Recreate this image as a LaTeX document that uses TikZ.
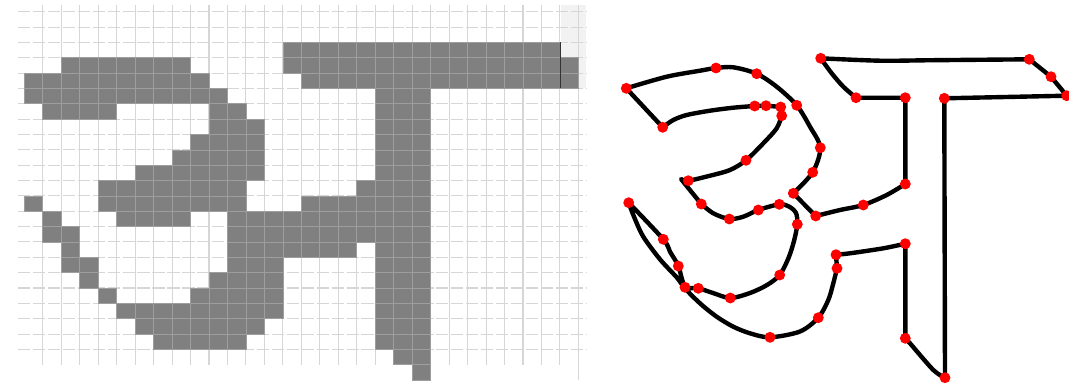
\documentclass[tikz,border=0pt]{standalone}
\usepackage{xcolor}
\usepackage{tikz}
\definecolor{CellGray}{RGB}{128,128,128}
\definecolor{GridGray}{RGB}{214,214,214}
\definecolor{PaleGray}{RGB}{242,242,242}
\definecolor{DotRed}{RGB}{255,0,0}
\def\cw{18.47}
\def\ch{15.35}
\tikzset{
  cell/.style={fill=CellGray, draw=black!38, line width=0.4pt},
  gridv/.style={draw=GridGray, line width=0.6pt},
  gridh/.style={draw=GridGray, line width=0.6pt, dash pattern=on 7pt off 1.5pt},
  letterline/.style={draw=black, line width=2.5pt, line join=round, line cap=round},
  reddot/.style={fill=DotRed, draw=none},
}

\begin{document}
\begin{tikzpicture}[x=0.02cm, y=-0.02cm]
  \fill[white] (0,0) rectangle (1069,383);
  \useasboundingbox (0,0) rectangle (1069,383);

  % pixel grid
  \fill[PaleGray] (560.7,5) rectangle (585.7,88.4);
  \foreach \k in {1,...,29}
    \draw[gridv] ({24.3+\k*\cw},5) -- ({24.3+\k*\cw},365);
  \draw[gridv] ({24.3+30*\cw},5) -- ({24.3+30*\cw},380);
  \foreach \j in {0,...,22}
    \draw[gridh] (18,{11.7+\j*\ch}) -- (586,{11.7+\j*\ch});
  \foreach \r/\a/\b in {2/14/28, 3/2/8, 3/14/29, 4/0/9, 4/15/29, 5/0/10, 5/19/21,
      6/1/4, 6/10/11, 6/19/21, 7/10/12, 7/19/21, 8/9/12, 8/19/21, 9/8/12, 9/19/21,
      10/6/12, 10/19/21, 11/4/11, 11/18/21, 12/0/0, 12/4/11, 12/15/21,
      13/1/1, 13/5/8, 13/11/21, 14/1/2, 14/11/21, 15/2/2, 15/11/17, 15/19/21,
      16/2/3, 16/11/13, 16/19/21, 17/3/3, 17/10/13, 17/19/21, 18/4/4, 18/9/13, 18/19/21,
      19/5/13, 19/19/21, 20/6/12, 20/19/21, 21/7/11, 21/19/21, 22/20/21, 23/21/21}
    \foreach \c in {\a,...,\b}
      \draw[cell] ({24.3+\c*\cw},{11.7+\r*\ch}) rectangle ({24.3+(\c+1)*\cw},{11.7+(\r+1)*\ch});
  \draw[black!80, line width=0.6pt] (560.7,42.4) -- (560.7,88.4);

  % outline points
  \coordinate (p1) at (626.3,88.3);
  \coordinate (p2) at (716,68);
  \coordinate (p3) at (756.7,73.7);
  \coordinate (p4) at (796.7,105.3);
  \coordinate (p5) at (820.3,147.7);
  \coordinate (p6) at (812.7,172.3);
  \coordinate (p7) at (793.3,193.3);
  \coordinate (p8) at (815.7,216);
  \coordinate (p9) at (863.3,205);
  \coordinate (p10) at (905.3,184);
  \coordinate (p11) at (905.3,97.7);
  \coordinate (p12) at (856,97.7);
  \coordinate (p13) at (820.7,58.3);
  \coordinate (p14) at (1029.3,59.3);
  \coordinate (p15) at (1051,76.7);
  \coordinate (p16) at (1066.7,95.7);
  \coordinate (p17) at (944.3,98.3);
  \coordinate (p18) at (945,377.7);
  \coordinate (p19) at (905.3,338.3);
  \coordinate (p20) at (905.3,243.7);
  \coordinate (p21) at (836,254.7);
  \coordinate (p22) at (837,268.3);
  \coordinate (p23) at (818.3,317.7);
  \coordinate (p24) at (770,337.3);
  \coordinate (p25) at (685,287.3);
  \coordinate (p26) at (678.3,266);
  \coordinate (p27) at (663.3,239.3);
  \coordinate (p28) at (628.7,202.7);
  \coordinate (p29) at (698.3,288.3);
  \coordinate (p30) at (730.3,298);
  \coordinate (p31) at (779.7,275);
  \coordinate (p32) at (797.3,224.3);
  \coordinate (p33) at (779.3,204.3);
  \coordinate (p34) at (758.3,210);
  \coordinate (p35) at (729.3,219);
  \coordinate (p36) at (701.3,204);
  \coordinate (p37) at (688.3,180.7);
  \coordinate (p38) at (746,160.3);
  \coordinate (p39) at (781.7,115.7);
  \coordinate (p40) at (780.7,107);
  \coordinate (p41) at (766,105.7);
  \coordinate (p42) at (754.7,106);
  \coordinate (p43) at (662.7,127.3);

  % traced letter
  \draw[letterline]
    plot[smooth] coordinates {(p1) (666.7,76.7) (700,70.7) (p2) (733.3,67.3) (p3) (776.7,86.7) (p4) (810,126.7) (p5) (p6) (p7)}
    -- plot[smooth] coordinates {(p8) (840,210) (p9) (886.7,195) (p10)}
    -- (p11)
    -- plot[smooth] coordinates {(p12) (843.3,86.7) (831.7,73.3) (p13)}
    -- plot[smooth] coordinates {(p13) (880,60.7) (933,60.2) (p14)}
    -- (p15) -- (p16) -- (p17) -- (p18)
    -- plot[smooth] coordinates {(p18) (933.3,370) (910,343.3) (p19)}
    -- (p20)
    -- plot[smooth] coordinates {(p20) (883.3,248.3) (850,253.3) (p21)}
    -- plot[smooth] coordinates {(p22) (833.3,283.3) (828.3,300) (p23) (800,331.5) (p24) (750,333.3) (733.3,326.7) (716.7,316.7) (700,303.3) (p25) (p26) (670,251.7) (p27) (p28)}
    -- plot[smooth] coordinates {(p28) (634,216.7) (643.3,236.7) (660,259.3) (676.7,277.3) (p25) (p29) (713,293) (p30) (750,293) (767,285) (p31) (788.5,258) (794,241) (p32) (796,213) (789,206.5) (p33) (p34) (743.3,216.7) (p35) (713.3,213.3) (p36)}
    -- plot[smooth] coordinates {(681,179) (p37) (710,175.7) (730,170) (p38) (763.3,143.3) (776.7,128.3) (p39)}
    -- plot[smooth] coordinates {(p40) (p41) (p42) (733.3,107.7) (710,110.7) (686.7,115) (673.3,120) (p43)}
    -- cycle;

  \foreach \i in {1,...,43}
    \fill[reddot] (p\i) circle[radius=3.1pt];
\end{tikzpicture}
\end{document}
